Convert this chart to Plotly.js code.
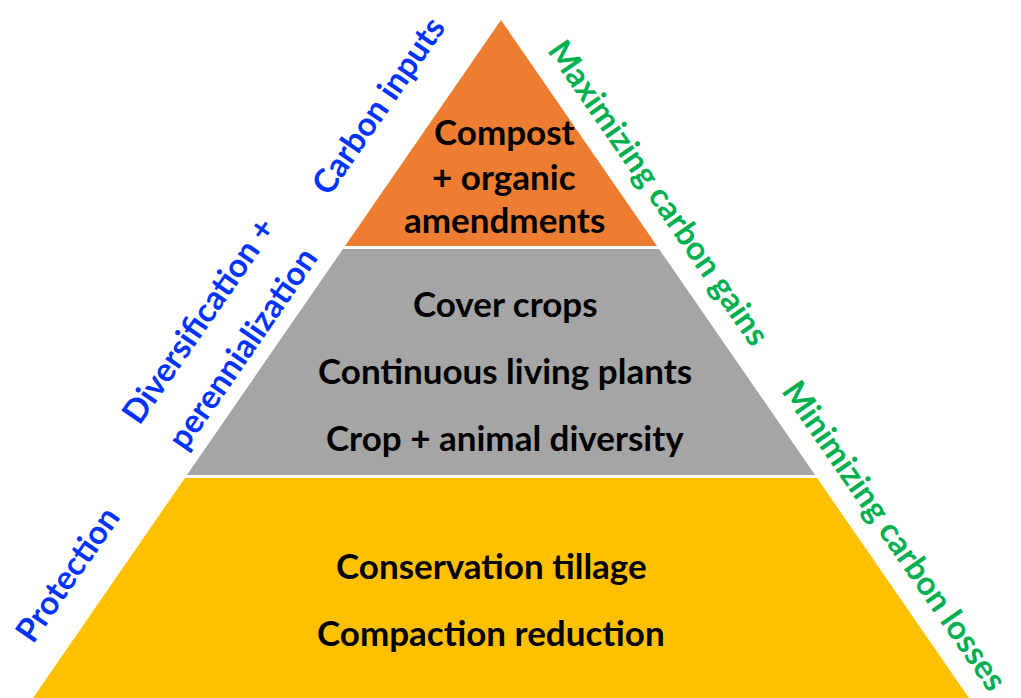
<!DOCTYPE html>
<html>
<head>
<meta charset="utf-8">
<script src="https://cdn.plot.ly/plotly-3.0.1.min.js"></script>
<style>html,body{margin:0;padding:0;background:#fff;}#chart{width:1021px;height:698px;}</style>
</head>
<body>
<div id="chart"></div>
<script>
// Tiers (top to bottom)
const tierNames = ["Carbon inputs", "Diversification + perennialization", "Protection"];
const tierColors = ["#ED7D31", "#A5A5A5", "#FFC000"];
const tierTextLines = [
  ["Compost", "+ organic", "amendments"],
  ["Cover crops", "Continuous living plants", "Crop + animal diversity"],
  ["Conservation tillage", "Compaction reduction"]
];
const rightLabels = ["Maximizing carbon gains", "Minimizing carbon losses"];

// geometry (pixel space)
const W = 1021, H = 698;
const apex = {x: 501, y: 20};
const halfSlope = 468 / 678;
const tierTop = [20, 249, 478];
const tierBottom = [246, 475, 730];
const lineY = [[131, 176, 219], [303, 370, 437], [565, 632]];
const lineX = [[504, 504, 504], [505, 505, 505], [491, 491]];

function xAt(y, side) { return apex.x + side * (y - apex.y) * halfSlope; }

const traces = tierColors.map((c, i) => {
  const t = tierTop[i], b = tierBottom[i];
  return {
    type: "scatter", mode: "lines", fill: "toself", fillcolor: c,
    line: {width: 0, color: c}, hoverinfo: "skip",
    x: [xAt(t, -1), xAt(t, 1), xAt(b, 1), xAt(b, -1), xAt(t, -1)],
    y: [t, t, b, b, t]
  };
});

const annotations = [];
const tierFont = {family: "Lato, 'Open Sans', sans-serif", size: 35, color: "#000"};
tierTextLines.forEach((lines, i) => {
  lines.forEach((s, j) => {
    annotations.push({x: lineX[i][j], y: lineY[i][j], xref: "x", yref: "y", text: "<b>" + s + "</b>",
      showarrow: false, xanchor: "center", yanchor: "middle", font: tierFont});
  });
});

const blue = "#0033FF", green = "#00B050";
const sideFont = (c) => ({family: "Lato, 'Open Sans', sans-serif", size: 33, color: c});
const leftPos = [
  {t: "Carbon inputs", x: 377, y: 105},
  {t: "Diversification +", x: 197, y: 320},
  {t: "perennialization", x: 241, y: 348},
  {t: "Protection", x: 66, y: 574}
];
leftPos.forEach(p => annotations.push({x: p.x, y: p.y, xref: "x", yref: "y", text: "<b>" + p.t + "</b>",
  showarrow: false, textangle: -55.4, xanchor: "center", yanchor: "middle", font: sideFont(blue)}));
const rightPos = [{x: 660, y: 192}, {x: 896, y: 535}];
rightLabels.forEach((t, i) => annotations.push({x: rightPos[i].x, y: rightPos[i].y, xref: "x", yref: "y", text: "<b>" + t + "</b>",
  showarrow: false, textangle: 55.4, xanchor: "center", yanchor: "middle", font: sideFont(green)}));

const layout = {
  width: W, height: H,
  margin: {l: 0, r: 0, t: 0, b: 0},
  paper_bgcolor: "#fff", plot_bgcolor: "#fff",
  showlegend: false,
  xaxis: {range: [0, W], visible: false, fixedrange: true},
  yaxis: {range: [H, 0], visible: false, fixedrange: true},
  annotations: annotations
};
Plotly.newPlot("chart", traces, layout, {staticPlot: true, displayModeBar: false});
</script>
</body>
</html>
